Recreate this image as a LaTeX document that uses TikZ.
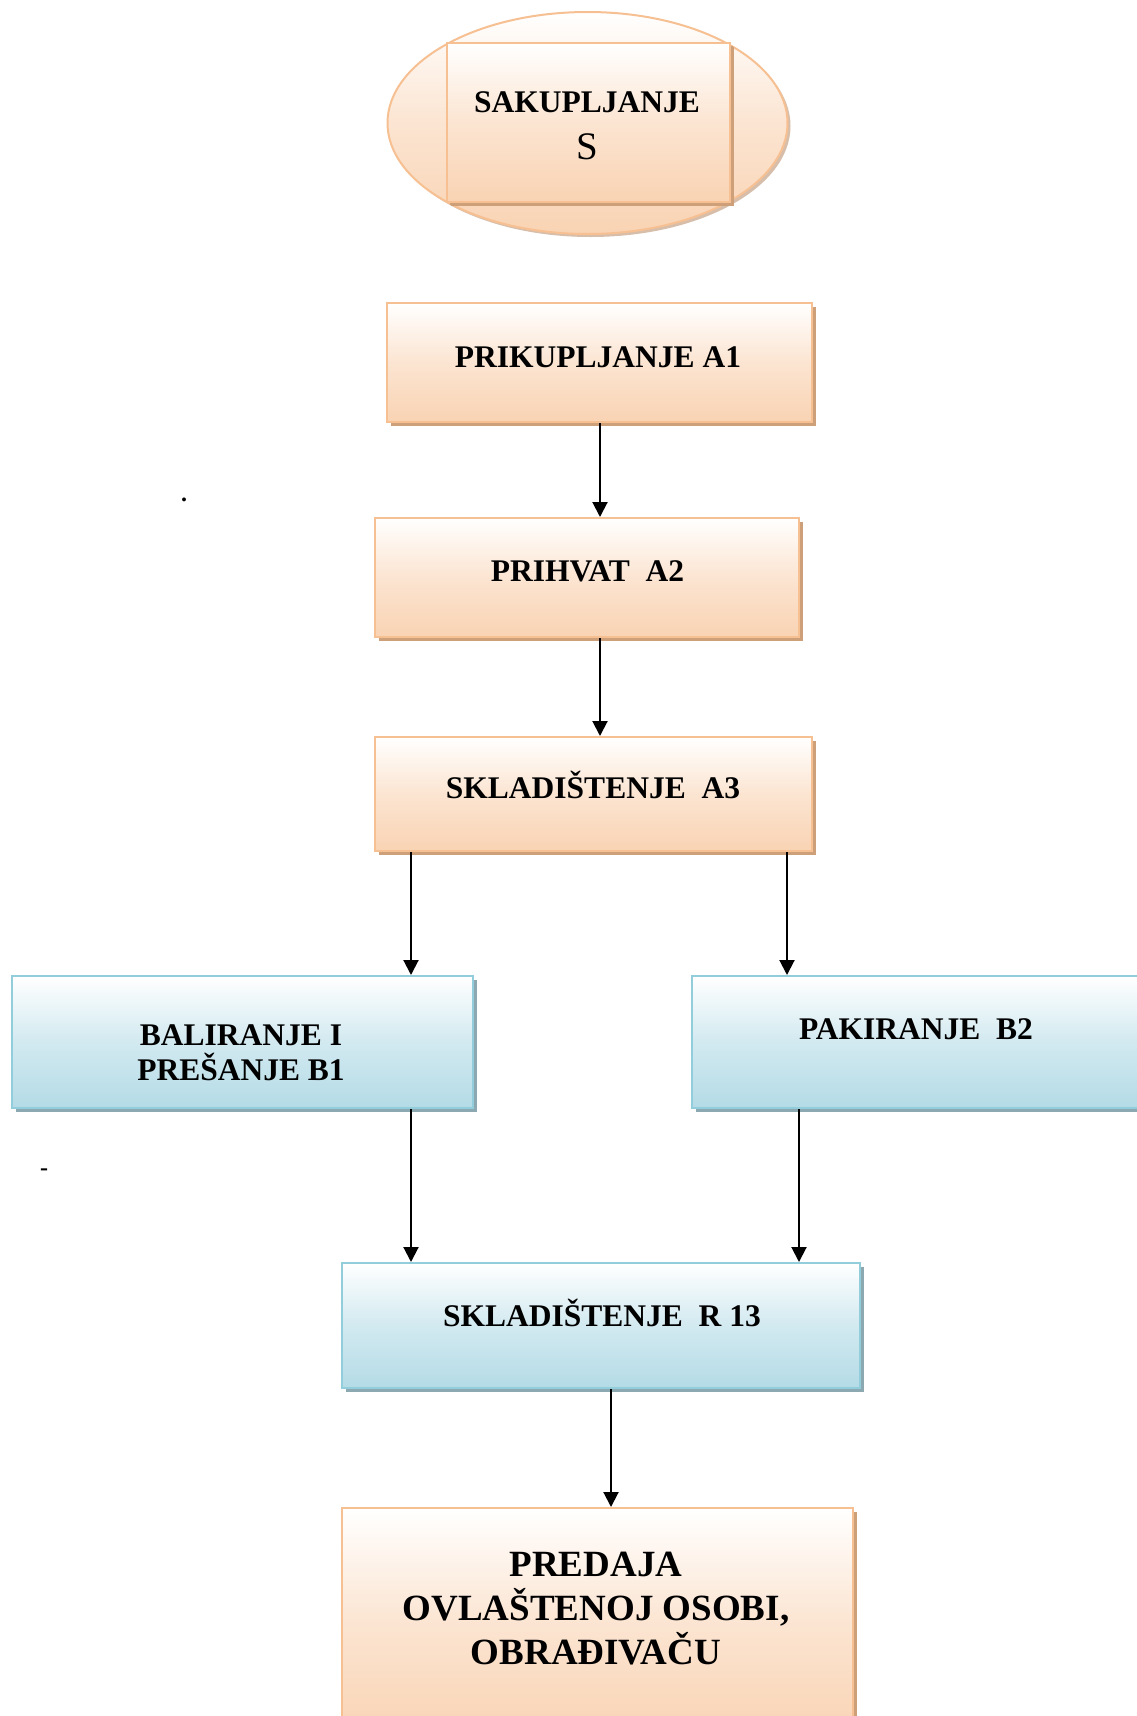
\documentclass[tikz,border=0pt]{standalone}
\usepackage{fontspec}
\setmainfont{Liberation Serif}
\usetikzlibrary{arrows.meta,shadows,shapes.geometric,calc}
\definecolor{peach}{RGB}{249,211,179}
\definecolor{peachline}{RGB}{247,192,146}
\definecolor{peachshadow}{RGB}{205,160,122}
\definecolor{ellshadow}{RGB}{215,190,170}
\definecolor{bluebot}{RGB}{180,219,230}
\definecolor{blueline}{RGB}{146,205,220}
\definecolor{blueshadow}{RGB}{140,168,176}
\tikzset{
  obox/.style={rectangle, draw=peachline, line width=2pt, inner sep=0pt,
    top color=white, bottom color=peach, middle color=peach!60!white,
    general shadow={fill=peachshadow, shadow xshift=4pt, shadow yshift=-4pt}},
  bbox/.style={rectangle, draw=blueline, line width=2pt, inner sep=0pt,
    top color=white, bottom color=bluebot, middle color=bluebot!60!white,
    general shadow={fill=blueshadow, shadow xshift=4pt, shadow yshift=-4pt}},
  lbl/.style={font=\fontsize{31.5}{35}\selectfont\bfseries, inner sep=0pt, anchor=base, align=center},
  arr/.style={line width=2pt, -{Triangle[length=15pt,width=15pt]}},
}
\begin{document}
\begin{tikzpicture}[x=1pt,y=-1pt]
\clip (0,0) rectangle (1137,1716);
\fill[white] (0,0) rectangle (1137,1716);

% top ellipse with inner rectangle
\node[ellipse, draw=peachline, line width=2pt, inner sep=0pt,
  minimum width=400pt, minimum height=222pt,
  top color=white, bottom color=peach, middle color=peach!60!white,
  general shadow={fill=ellshadow, shadow xshift=3pt, shadow yshift=-3pt}] (E) at (587.5,123) {};
\node[obox, minimum width=283pt, minimum height=159pt,
  general shadow={fill=peachshadow, shadow xshift=3pt, shadow yshift=-3pt}] (S0) at (588.5,122.5) {};
\node[lbl] (tS) at (587,112) {SAKUPLJANJE};
\node[font=\fontsize{39}{39}\selectfont, inner sep=0pt, anchor=base] (tS2) at (587,159) {S};

% boxes
\node[obox, minimum width=425pt, minimum height=119pt] (A1) at (599.5,362.5) {};
\node[obox, minimum width=424pt, minimum height=119pt] (A2) at (587,577.5) {};
\node[obox, minimum width=437pt, minimum height=114pt] (A3) at (593.5,794) {};
\node[bbox, minimum width=461pt, minimum height=132pt] (B1) at (242.5,1042) {};
\node[bbox, minimum width=460pt, minimum height=132pt] (B2) at (922,1042) {};
\node[bbox, minimum width=518pt, minimum height=125pt] (R13) at (601,1325.5) {};
\node[obox, minimum width=511pt, minimum height=232pt] (P) at (597.5,1624) {};

% texts
\node[lbl] (tA1) at (598,367) {PRIKUPLJANJE A1};
\node[lbl] (tA2) at (587.5,581) {PRIHVAT~~A2};
\node[lbl] (tA3) at (593,798) {SKLADIŠTENJE~~A3};
\node[lbl] (tB1) at (241,1080) {BALIRANJE I\\PREŠANJE B1};
\node[lbl] (tB2) at (916,1039) {PAKIRANJE~~B2};
\node[lbl] (tR) at (602,1326) {SKLADIŠTENJE~~R 13};
\node[lbl, font=\fontsize{37}{44}\selectfont\bfseries] (tP) at (596,1664) {PREDAJA\\OVLAŠTENOJ OSOBI,\\OBRAĐIVAČU};

% stray marks
\node[font=\fontsize{24}{24}\selectfont\bfseries, inner sep=0pt] (dot) at (184,500) {.};
\node[font=\fontsize{24}{24}\selectfont\bfseries, inner sep=0pt] (dash) at (44,1172) {-};

% connectors
\coordinate (x600) at (600,0);
\coordinate (x411) at (411,0);
\coordinate (x787) at (787,0);
\coordinate (x799) at (799,0);
\coordinate (x611) at (611,0);
\draw[arr] (A1.south -| x600) -- (A2.north -| x600);
\draw[arr] (A2.south -| x600) -- (A3.north -| x600);
\draw[arr] (A3.south -| x411) -- (B1.north -| x411);
\draw[arr] (A3.south -| x787) -- (B2.north -| x787);
\draw[arr] (B1.south -| x411) -- (R13.north -| x411);
\draw[arr] (B2.south -| x799) -- (R13.north -| x799);
\draw[arr] (R13.south -| x611) -- (P.north -| x611);
\end{tikzpicture}
\end{document}
